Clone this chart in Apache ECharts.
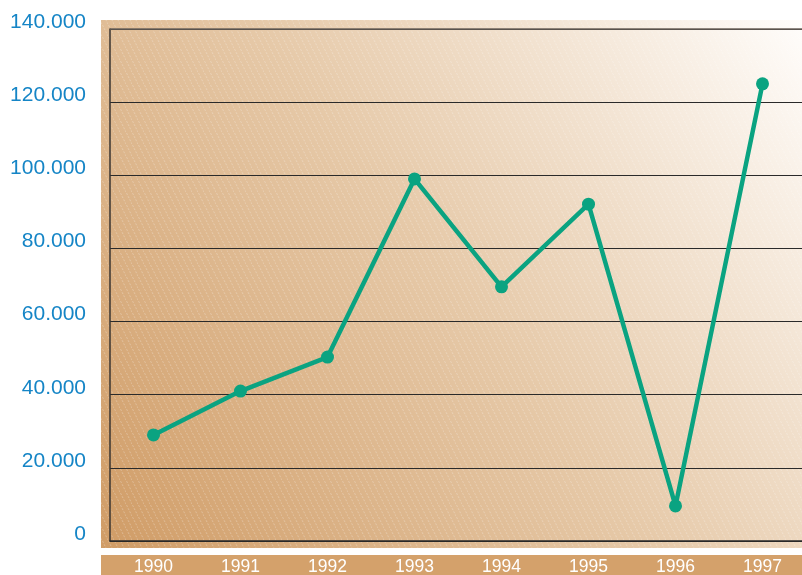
<!DOCTYPE html>
<html>
<head>
<meta charset="utf-8">
<script src="https://cdn.jsdelivr.net/npm/echarts@6/dist/echarts.min.js"></script>
<style>
  html, body { margin: 0; padding: 0; background: #fff; }
  #chart { width: 802px; height: 575px; }
</style>
</head>
<body>
<div id="chart"></div>
<script>
  const years = ['1990', '1991', '1992', '1993', '1994', '1995', '1996', '1997'];
  const values = [29000, 41000, 50300, 99000, 69500, 92100, 9600, 125000];
  const yTicks = [0, 20000, 40000, 60000, 80000, 100000, 120000, 140000];

  // hatch tile for the diagonal pattern
  const tile = document.createElement('canvas');
  tile.width = 6; tile.height = 12;
  const ctx = tile.getContext('2d');
  ctx.strokeStyle = 'rgba(255,255,255,0.35)';
  ctx.lineWidth = 0.8;
  ctx.setLineDash([2, 1.5]);
  ctx.beginPath();
  ctx.moveTo(-1, -2); ctx.lineTo(7, 14);
  ctx.stroke();

  const chart = echarts.init(document.getElementById('chart'));
  const option = {
    animation: false,
    graphic: [
      {
        type: 'rect', z: -10,
        shape: { x: 101, y: 20, width: 701, height: 528 },
        style: {
          fill: new echarts.graphic.LinearGradient(0, 1, 1, 0, [
            { offset: 0, color: '#d09c66' },
            { offset: 0.5, color: '#e6c9a8' },
            { offset: 1, color: '#fffdfb' }
          ])
        }
      },
      {
        type: 'rect', z: -9,
        shape: { x: 101, y: 20, width: 701, height: 528 },
        style: { fill: { image: tile, repeat: 'repeat' } }
      },
      {
        type: 'rect', z: -10,
        shape: { x: 101, y: 555, width: 701, height: 20 },
        style: { fill: '#d4a16b' }
      },
      {
        type: 'line', z: 5,
        shape: { x1: 110, y1: 29, x2: 802, y2: 29 },
        style: { stroke: '#6b625a', lineWidth: 1.5 }
      }
    ],
    grid: { left: 110, top: 29, width: 696, height: 512, outerBoundsMode: 'none' },
    xAxis: {
      type: 'category',
      data: years,
      axisLine: { show: true, lineStyle: { color: '#2a2a2a', width: 1.5 } },
      axisTick: { show: false },
      axisLabel: { color: '#ffffff', fontSize: 17.5, fontFamily: 'Liberation Sans', margin: 17 }
    },
    yAxis: {
      type: 'value',
      min: 0, max: 140000, interval: 20000,
      axisLine: { show: true, lineStyle: { color: '#3a3530', width: 1.5 } },
      axisTick: { show: false },
      splitLine: { lineStyle: { color: '#2a2a2a', width: 1.2 } },
      axisLabel: {
        color: '#1585c6', fontSize: 21, fontFamily: 'Liberation Sans', margin: 24,
        verticalAlign: 'bottom', lineHeight: 14,
        formatter: v => (yTicks.includes(v) ? (v === 0 ? '0' : (v / 1000).toFixed(3)) : '')
      }
    },
    series: [{
      type: 'line',
      data: values,
      symbol: 'circle',
      symbolSize: 13,
      lineStyle: { color: '#0aa381', width: 4.5 },
      itemStyle: { color: '#0aa381' }
    }]
  };
  chart.setOption(option);
</script>
</body>
</html>
